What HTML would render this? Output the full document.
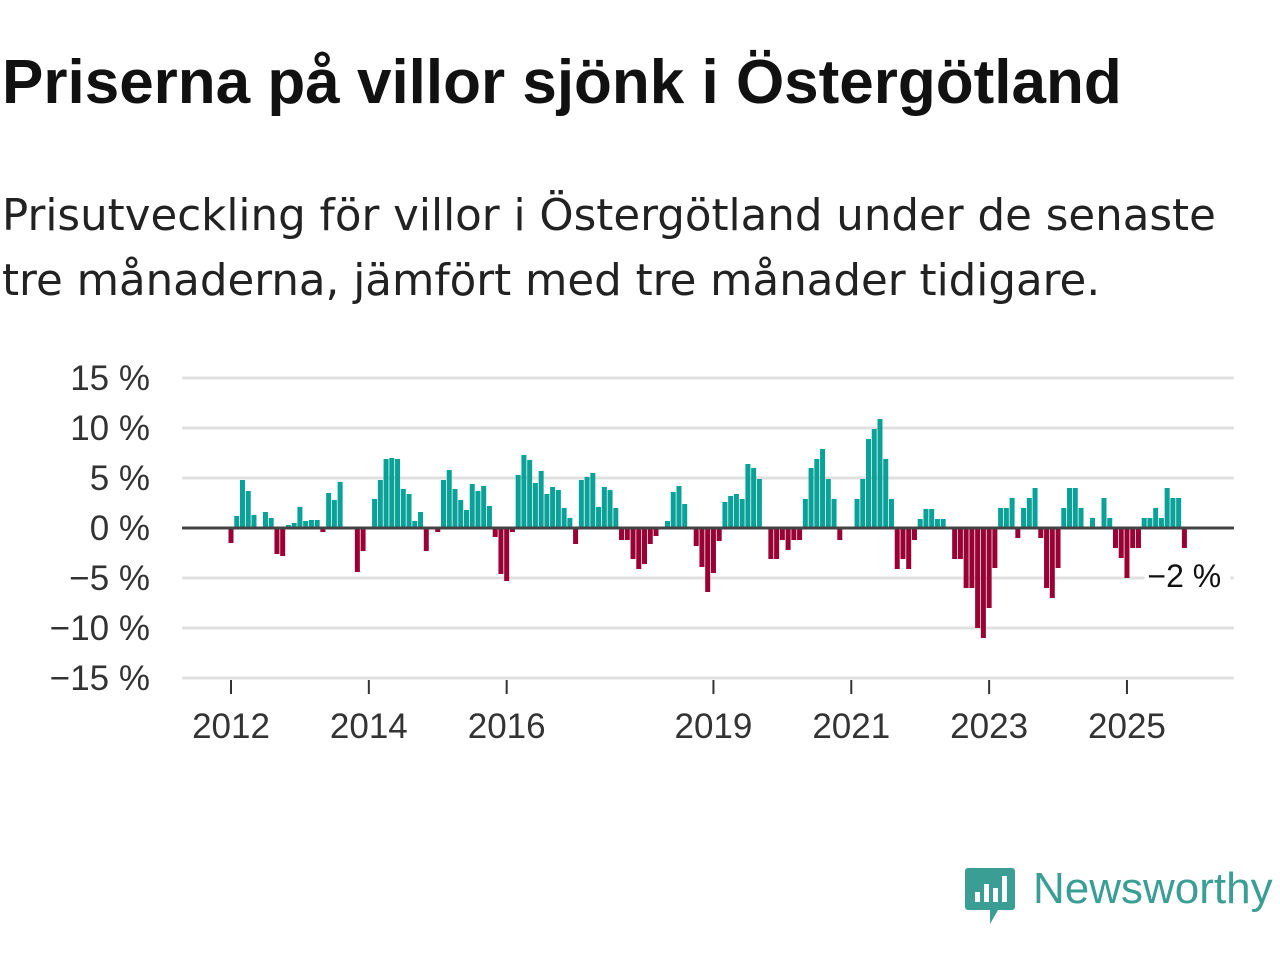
<!DOCTYPE html>
<html><head><meta charset="utf-8"><style>
body{margin:0;width:1280px;height:960px;background:#fff;overflow:hidden;font-family:"Liberation Sans","DejaVu Sans",sans-serif;}
h1{position:absolute;left:2px;top:47px;margin:0;font-size:62px;line-height:normal;font-weight:bold;color:#111;}
.sub{position:absolute;left:2px;top:184px;margin:0;font-family:"DejaVu Sans",sans-serif;font-size:43.5px;line-height:65px;color:#222;white-space:nowrap;}
svg{position:absolute;left:0;top:0;}
</style></head><body>
<h1>Priserna på villor sjönk i Östergötland</h1>
<p class="sub">Prisutveckling för villor i Östergötland under de senaste<br>tre månaderna, jämfört med tre månader tidigare.</p>
<svg id="chart" width="1280" height="960"></svg>
<script>
const startYear = 2012;
const values = [-1.5,1.2,4.8,3.7,1.3,0,1.6,1.0,-2.6,-2.8,0.3,0.5,2.1,0.7,0.8,0.8,-0.4,3.5,2.8,4.6,0,0,-4.4,-2.3,0,2.9,4.8,6.9,7.0,6.9,3.9,3.4,0.7,1.6,-2.3,0,-0.4,4.8,5.8,3.9,2.8,1.8,
4.4,3.7,4.2,2.2,-0.9,-4.6,-5.3,-0.4,5.3,7.3,6.8,4.5,5.7,3.4,4.1,3.8,2.0,1.0,-1.6,4.8,5.1,5.5,2.1,4.1,3.8,2.0,-1.2,-1.2,-3.1,-4.1,-3.6,-1.6,-0.8,0,0.7,3.6,4.2,2.4,0.1,-1.8,-3.9,-6.4,-4.5,-1.3,
2.6,3.2,3.4,2.9,6.4,6.0,4.9,0,-3.1,-3.1,-1.2,-2.2,-1.2,-1.2,2.9,6.0,6.9,7.9,4.9,2.9,-1.2,0,0,2.9,4.9,8.9,9.9,10.9,6.9,2.9,-4.1,-3.1,-4.1,-1.2,0.9,1.9,1.9,0.9,0.9,0,-3.1,-3.1,
-6,-6,-10,-11,-8,-4,2,2,3,-1,2,3,4,-1,-6,-7,-4,2,4,4,2,0,1,0,3,1,-2,-3,-5,-2,-2,1,1,2,1,4,3,3,-2];
const yTicks = [15,10,5,0,-5,-10,-15];
const xTickYears = [2012,2014,2016,2019,2021,2023,2025];
const lastLabel = "−2 %";

const NS="http://www.w3.org/2000/svg";
const svg=document.getElementById('chart');
const x0=231, pxYear=68.92;
function xScale(t){return x0+(t-startYear)*pxYear;}
function yScale(v){return 528-v*10;}
function mk(tag,attrs,parent){const e=document.createElementNS(NS,tag);for(const k in attrs)e.setAttribute(k,attrs[k]);(parent||svg).appendChild(e);return e;}

yTicks.forEach(v=>{
  const g=mk('line',{x1:182,x2:1234,y1:yScale(v),y2:yScale(v),stroke:'#e0e0e0','stroke-width':3});
  
  
  const t=mk('text',{x:150,y:yScale(v)+12,'text-anchor':'end','font-size':35,fill:'#333'});
  t.textContent=(v<0?'−'+(-v):v)+' %';
  
  
});
values.forEach((v,i)=>{
  const cx=xScale(startYear+i/12);
  const y=v>=0?yScale(v):yScale(0);
  const h=Math.abs(yScale(v)-yScale(0));
  const r=mk('rect',{x:cx-2.5,y:y,width:5,height:h,fill:v>=0?'#0aa198':'#990033'});
  
  
});
const z=mk('line',{x1:182,x2:1234,y1:yScale(0),y2:yScale(0),stroke:'#444','stroke-width':3});


xTickYears.forEach(yr=>{
  const x=xScale(yr);
  const l=mk('line',{x1:x,x2:x,y1:680,y2:694,stroke:'#333','stroke-width':2});
  
  
  const t=mk('text',{x:x,y:738,'text-anchor':'middle','font-size':35,fill:'#333'});
  t.textContent=yr;
  
  
});
const lx=xScale(startYear+(values.length-1)/12);
const bg=mk('rect',{x:lx-40,y:558,width:86,height:36,fill:'#fff'});


const lt=mk('text',{x:lx-37,y:587,'font-size':32,fill:'#111'});
lt.textContent=lastLabel;


</script>
<svg width="1280" height="960" style="pointer-events:none">
<path d="M968 868 h44 a3 3 0 0 1 3 3 v36 a3 3 0 0 1 -3 3 h-14 l-8 14 v-14 h-22 a3 3 0 0 1 -3 -3 v-36 a3 3 0 0 1 3 -3z" fill="#3a9e94"/>
<rect x="975" y="892" width="5" height="10" fill="#fff"/><rect x="984" y="884" width="5" height="18" fill="#fff"/><rect x="993" y="888" width="5" height="14" fill="#fff"/><rect x="1002" y="876" width="5" height="26" fill="#fff"/>
<text x="1033" y="903" font-size="44" fill="#3a9e94" font-family="Liberation Sans, sans-serif">Newsworthy</text>
</svg>
</body></html>
